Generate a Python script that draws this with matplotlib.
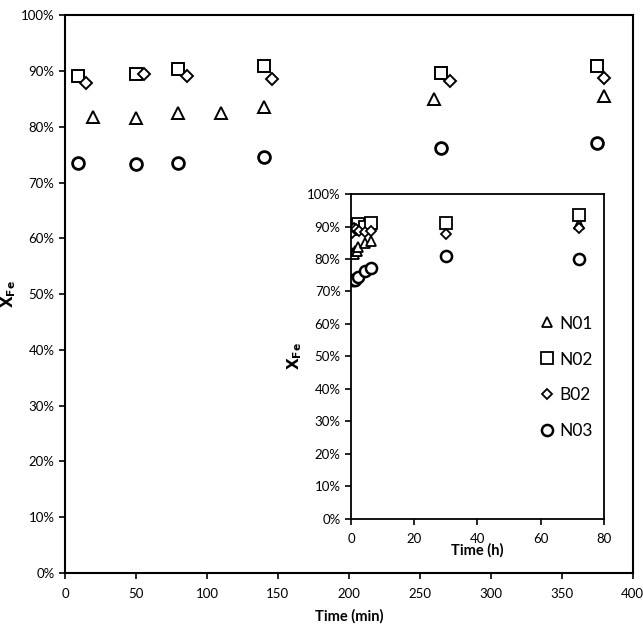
import matplotlib
matplotlib.use('Agg')
from matplotlib import pyplot as plt
from matplotlib.ticker import PercentFormatter

plt.rcParams['font.family'] = ['Lato', 'DejaVu Sans']

# main plot (minutes)
t_n01 = [20, 50, 80, 110, 140, 260, 380]
y_n01 = [81.8, 81.5, 82.4, 82.4, 83.6, 85.0, 85.6]
t_n02 = [9, 50, 80, 140, 265, 375]
y_n02 = [89.2, 89.5, 90.4, 90.9, 89.7, 91.0]
t_b02 = [15, 56, 86, 146, 271, 380]
y_b02 = [87.9, 89.5, 89.1, 88.5, 88.2, 88.7]
t_n03 = [9, 50, 80, 140, 265, 375]
y_n03 = [73.6, 73.4, 73.6, 74.6, 76.2, 77.1]

# inset (hours)
h_n01 = [0.33, 0.83, 1.33, 1.83, 2.33, 4.33, 6.33, 72]
hy_n01 = [81.8, 81.5, 82.4, 82.4, 83.6, 85.0, 85.6, 90.9]
h_n02 = [0.15, 0.83, 1.33, 2.33, 4.42, 6.25, 30, 72]
hy_n02 = [89.2, 89.5, 90.4, 90.9, 89.7, 91.0, 91.0, 93.6]
h_b02 = [0.25, 0.93, 1.43, 2.43, 4.52, 6.33, 30, 72]
hy_b02 = [87.9, 89.5, 89.1, 88.5, 88.2, 88.7, 87.6, 89.6]
h_n03 = [0.15, 0.83, 1.33, 2.33, 4.42, 6.25, 30, 72]
hy_n03 = [73.6, 73.4, 73.6, 74.6, 76.2, 77.1, 80.9, 80.0]

fig = plt.figure(figsize=(6.43, 6.28), dpi=100)
ax = fig.add_axes([0.101, 0.0876, 0.883, 0.888])

mk = dict(linestyle='none', markerfacecolor='white', markeredgecolor='black')
ax.plot(t_n01, y_n01, marker='^', markersize=8, markeredgewidth=1.4, **mk)
ax.plot(t_n02, y_n02, marker='s', markersize=9, markeredgewidth=1.4, **mk)
ax.plot(t_b02, y_b02, marker='D', markersize=6, markeredgewidth=1.4, **mk)
ax.plot(t_n03, y_n03, marker='o', markersize=8.5, markeredgewidth=2, **mk)

ax.set_xlim(0, 400)
ax.set_ylim(0, 100)
ax.set_xticks(range(0, 401, 50))
ax.set_yticks(range(0, 101, 10))
ax.yaxis.set_major_formatter(PercentFormatter(decimals=0))
ax.tick_params(direction='out', length=4, width=1.2, labelsize=9.5, top=False, right=False)
ax.tick_params(axis='x', pad=7)
for s in ax.spines.values():
    s.set_linewidth(1.5)
ax.set_xlabel('Time (min)', fontsize=10.5, fontweight='bold', labelpad=6)
ax.set_ylabel(r'$\mathbf{X_{Fe}}$', fontsize=11)
ax.yaxis.set_label_coords(-0.083, 0.5)

# inset
ins = fig.add_axes([0.546, 0.174, 0.393, 0.517])
ins.set_facecolor('white')
l1, = ins.plot(h_n01, hy_n01, marker='^', markersize=7, markeredgewidth=1.3, **mk)
l2, = ins.plot(h_n02, hy_n02, marker='s', markersize=8, markeredgewidth=1.3, **mk)
l3, = ins.plot(h_b02, hy_b02, marker='D', markersize=5.5, markeredgewidth=1.3, **mk)
l4, = ins.plot(h_n03, hy_n03, marker='o', markersize=8, markeredgewidth=1.8, **mk)
ins.set_xlim(0, 80)
ins.set_ylim(0, 100)
ins.set_xticks(range(0, 81, 20))
ins.set_yticks(range(0, 101, 10))
ins.yaxis.set_major_formatter(PercentFormatter(decimals=0))
ins.tick_params(direction='out', length=4, width=1.2, labelsize=9.5, top=False, right=False)
ins.tick_params(axis='x', pad=6)
for s in ins.spines.values():
    s.set_linewidth(1.3)
ins.set_xlabel('Time (h)', fontsize=10.5, fontweight='bold', labelpad=-1)
ins.set_ylabel(r'$\mathbf{X_{Fe}}$', fontsize=11, labelpad=2)
ins.legend([l1, l2, l3, l4], ['N01', 'N02', 'B02', 'N03'], loc='center left',
           bbox_to_anchor=(0.68, 0.435), frameon=False, fontsize=12.5,
           handletextpad=0.2, labelspacing=1.15, handlelength=1.0)

fig.savefig('out.png', dpi=100)
